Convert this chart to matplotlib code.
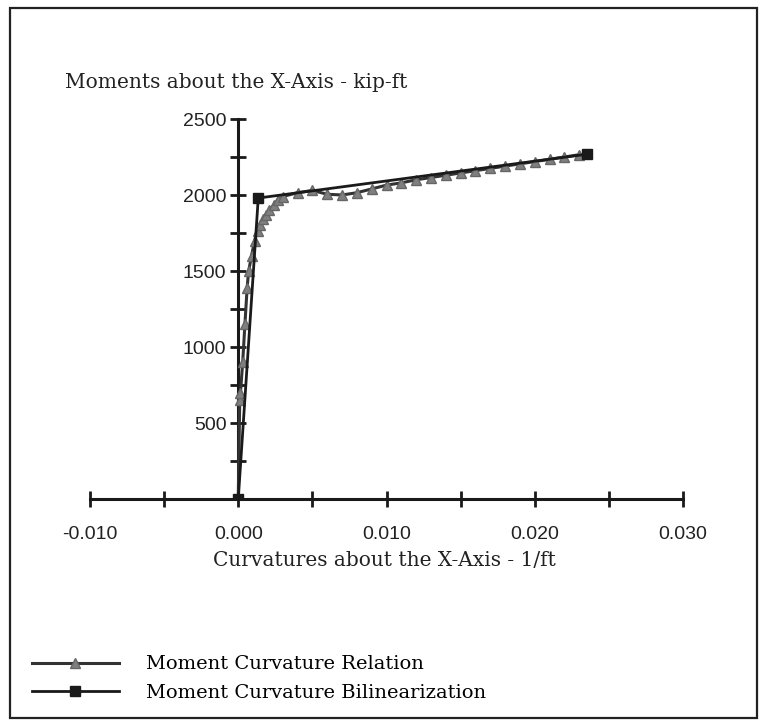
import matplotlib.pyplot as plt
from matplotlib.patches import Rectangle
from matplotlib.ticker import MultipleLocator, FormatStrFormatter

# moment-curvature relation (triangles)
curv_rel = [0.0, 0.0001, 0.00015, 0.0003, 0.00045, 0.0006, 0.0007, 0.0009,
            0.0011, 0.0013, 0.0015, 0.0017, 0.0019, 0.0021, 0.0024, 0.0027,
            0.003, 0.004, 0.005, 0.006, 0.007, 0.008, 0.009, 0.010, 0.011,
            0.012, 0.013, 0.014, 0.015, 0.016, 0.017, 0.018, 0.019, 0.020,
            0.021, 0.022, 0.023]
mom_rel = [0, 650, 700, 900, 1150, 1390, 1500, 1600, 1700, 1760, 1800, 1840,
           1870, 1900, 1935, 1965, 1990, 2015, 2030, 2005, 2000, 2015, 2040,
           2065, 2080, 2100, 2115, 2130, 2145, 2160, 2175, 2190, 2205, 2220,
           2235, 2250, 2265]

# bilinearization (squares)
curv_bil = [0.0, 0.00135, 0.0235]
mom_bil = [0, 1980, 2268]

xticks = [-0.010, 0.000, 0.010, 0.020, 0.030]
yticks = [500, 1000, 1500, 2000, 2500]

serif = 'DejaVu Serif'
tickfont = 'Liberation Sans'

fig = plt.figure(figsize=(7.69, 7.24), dpi=100)
fig.patches.append(Rectangle((10/769, 6/724), 747/769, 710/724, transform=fig.transFigure,
                             fill=False, edgecolor='#222222', lw=1.6))

ax = fig.add_axes([90/769, 225/724, 593/769, 380/724])
ax.plot(curv_rel, mom_rel, color='#333333', lw=2.2, marker='^', ms=6.5,
        mfc='#7f7f7f', mec='#666666', label='Moment Curvature Relation', zorder=3)
ax.plot(curv_bil, mom_bil, color='#1a1a1a', lw=2.0, marker='s', ms=7,
        mfc='#1a1a1a', mec='#1a1a1a', label='Moment Curvature Bilinearization', zorder=4)

ax.set_xlim(-0.010, 0.030)
ax.set_ylim(0, 2500)
ax.spines['left'].set_position(('data', 0))
ax.spines['bottom'].set_position(('data', 0))
ax.spines['top'].set_visible(False)
ax.spines['right'].set_visible(False)
for s in ('left', 'bottom'):
    ax.spines[s].set_linewidth(2.2)
    ax.spines[s].set_color('#1a1a1a')

ax.set_xticks(xticks)
ax.set_yticks(yticks)
ax.xaxis.set_minor_locator(MultipleLocator(0.005))
ax.yaxis.set_minor_locator(MultipleLocator(250))
ax.xaxis.set_major_formatter(FormatStrFormatter('%.3f'))
ax.tick_params(which='both', direction='inout', length=11, width=2, color='#1a1a1a')
ax.tick_params(axis='x', pad=14)
ax.tick_params(axis='y', pad=3)
for lab in ax.get_xticklabels() + ax.get_yticklabels():
    lab.set_fontfamily(tickfont)
    lab.set_fontsize(14)
    lab.set_color('#222222')

fig.text(65/769, 1 - 82/724, 'Moments about the X-Axis - kip-ft', family=serif,
         fontsize=14.5, va='center', ha='left', color='#222222')
fig.text(384/769, 1 - 560/724, 'Curvatures about the X-Axis - 1/ft', family=serif,
         fontsize=14.5, va='center', ha='center', color='#222222')

fig.legend(loc='lower left', bbox_to_anchor=(32/769, 22/724), frameon=False,
           prop={'family': serif, 'size': 14}, handlelength=4.45, handletextpad=1.4,
           labelspacing=0.55, borderpad=0, borderaxespad=0)

fig.savefig('out.png', dpi=100)
